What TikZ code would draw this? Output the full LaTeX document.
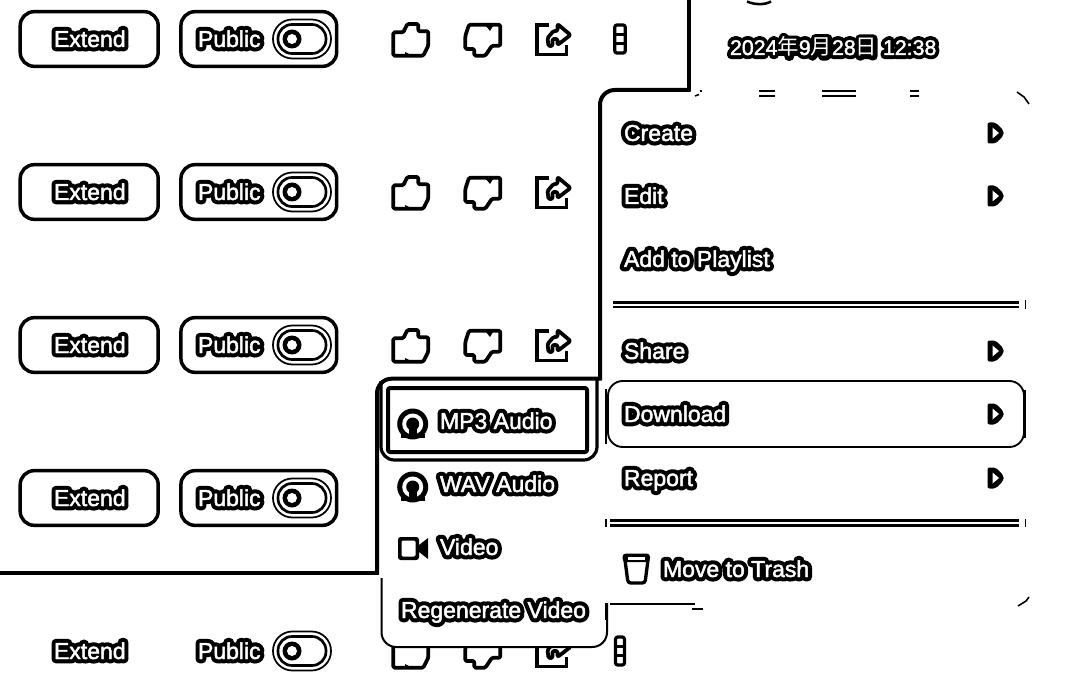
\documentclass[tikz,border=0pt]{standalone}
\usepackage{fontspec}
\setmainfont{Liberation Sans}
\newfontfamily\halofont[FakeBold=38]{Liberation Sans}
\newfontfamily\whitefont[FakeBold=2]{Liberation Sans}
\newfontfamily\cjkhalo[FakeBold=38]{Noto Sans CJK SC}
\newfontfamily\cjkwhite{Noto Sans CJK SC}
\newcommand{\halo}[1]{\rlap{\color{black}\halofont #1}{\color{white}\whitefont #1}}
\tikzset{
  x=0.75pt,y=-0.75pt,
  lab/.style={anchor=base west,inner sep=0pt,outer sep=0pt,font=\fontsize{17.25pt}{20pt}\selectfont},
  datelab/.style={anchor=base west,inner sep=0pt,outer sep=0pt,font=\fontsize{16pt}{20pt}\selectfont},
  btn/.style={draw=black,line width=2.6pt,rounded corners=10.5pt,minimum height=41pt,inner sep=0pt},
  heavy/.style={draw=black,line width=3pt},
  rule/.style={draw=black,line width=1.9pt},
  thinl/.style={draw=black,line width=1.2pt},
  ico/.style={draw=black,line width=2.8pt,line join=round,fill=white},
  pics/thumbup/.style={code={
    \draw[ico,rounded corners=1pt] (-17.7,15.7)--(-17.7,-7.7)--(-7.7,-7.7)--(-3.7,-16)--(7.3,-16)--(7.3,-8.7)--(17.3,-8.7)--(17.3,5.7)--(12.3,15.7)--cycle;
    \fill[black] (-6,12)--(-2,14)--(-6,15)--cycle;
  }},
  pics/thumbdown/.style={code={
    \draw[ico,rounded corners=1pt] (-14,-15.3)--(17.3,-15.3)--(17.3,5.7)--(9,5.7)--(2.3,15.7)--(-8.7,15.7)--(-8.7,9)--(-17.7,9)--(-17.7,-4)--cycle;
    \fill[black] (3,-14)--(10,-14)--(7,-9)--cycle;
  }},
  pics/shareicon/.style={code={
    \draw[draw=black,line width=2.8pt,line join=miter] (-5,-14.3)--(-16.5,-14.3)--(-16.5,15.5)--(13,15.5)--(13,6);
    \draw[ico,rounded corners=1pt] (-5,7)--(-6,-1)--(0,-8)--(4,-8)--(4,-15)--(17,-4)--(4,6)--(4,0)--(-1,0)--(-1,7)--cycle;
  }},
  pics/dots/.style={code={
    \draw[draw=black,line width=2.4pt,rounded corners=1.5pt] (-5.2,-14)rectangle(5.2,14);
    \draw[draw=black,line width=2.4pt] (-5.2,-4.7)--(5.2,-4.7) (-5.2,4.7)--(5.2,4.7);
  }},
  pics/toggle/.style={code={
    \draw[draw=black,line width=1.3pt,rounded corners=14.5pt] (-29,-19.5)rectangle(29,19.5);
    \draw[draw=black,line width=2pt,rounded corners=10.5pt] (-24,-14.5)rectangle(24,14.5);
    \fill[black] (-10,0) circle[radius=9.5];
    \fill[white] (-10,0) circle[radius=5];
  }},
  pics/chev/.style={code={
    \fill[black,rounded corners=1.5pt] (-8,-10.5)--(0,-10.5)--(8,-2.5)--(8,2.5)--(0,10.5)--(-8,10.5)--cycle;
    \fill[white] (-3,-5.5)--(3.5,0)--(-3,5.5)--cycle;
  }},
  pics/phones/.style={code={
    \fill[black] (0,0) circle[radius=15.5];
    \fill[white] (0,0) circle[radius=10.5];
    \fill[black] (-12,9.5) rectangle (12,14);
    \fill[black] (0,0) circle[radius=6.5];
    \fill[black] (-4,0) rectangle (4,12);
  }}
}
\begin{document}
\begin{tikzpicture}[line join=round]
\useasboundingbox (0,0) rectangle (1080,698);
\fill[white] (0,0) rectangle (1080,698);

% rows of buttons
\foreach \r/\y in {a/39,b/192,c/345,d/498}{
  \node[btn,minimum width=103.5pt] (ext\r) at (89.2,\y) {};
  \node[btn,minimum width=116.8pt] (pub\r) at (258.8,\y) {};
}
\foreach \r/\y in {a/39,b/192,c/345,d/498,e/651}{
  \pgfmathsetmacro{\b}{\y+8}
  \node[lab] (extt\r) at (54,\b) {\halo{Extend}};
  \node[lab] (pubt\r) at (198,\b) {\halo{Public}};
  \pic at (302,\y) {toggle};
}
\foreach \y in {39,192,345,651}{
  \pic at (411,\y+1) {thumbup};
  \pic at (483,\y+1) {thumbdown};
  \pic at (553.5,\y) {shareicon};
}
\pic at (620,39) {dots};
\pic[xscale=.85] at (620,651) {dots};

% frame of the dark panel
\draw[heavy] (688.7,-5)--(688.7,91.5);
\draw[heavy,rounded corners=11pt] (690.5,90)--(600,90)--(600,380);
\draw[heavy,rounded corners=11pt] (601.5,378.7)--(377,378.7)--(377,574);
\draw[heavy] (378.5,572.7)--(-5,572.7);

% date
\node[datelab] (date) at (730,55) {\rlap{\color{black}\halofont 2024\cjkhalo 年\halofont 9\cjkhalo 月\halofont 28\cjkhalo 日\halofont{} 12:38}{\color{white}\whitefont 2024\cjkwhite 年\whitefont 9\cjkwhite 月\whitefont 28\cjkwhite 日\whitefont{} 12:38}};

% scraps
\draw[rule] (747,1.5) .. controls (755,5) and (765,5) .. (771,1.5);
\draw[rule,line width=1.5pt] (759,91)--(775,91) (759,96.5)--(775,96.5) (822,91)--(856,91) (822,96.5)--(856,96.5) (910,91)--(919,91) (910,96.5)--(919,96.5);
\draw[thinl] (695,96)--(699,94.5);
\fill[black] (700,90.5) rectangle (702,92.5);
\draw[thinl] (1017,92)--(1024,97)--(1029,104);
\draw[thinl] (1018,606)--(1026,601)--(1029,597);

% submenu (lower part and selected outlines)
\fill[white,rounded corners=11pt] (381.5,590)--(381.5,647)--(607,647)--(607,590)--cycle;
\draw[line width=1.5pt,draw=black,rounded corners=11pt] (381.5,578)--(381.5,647)--(607,647)--(607,603);
\draw[draw=black,line width=2.4pt,rounded corners=10pt] (381,381)--(381,460)--(597,460)--(597,380);
\draw[draw=black,line width=3pt,rounded corners=1.5pt] (388,388) rectangle (587,452);

% main menu
\node[draw=black,line width=1.4pt,rounded corners=11pt,minimum width=312pt,minimum height=49.5pt,inner sep=0pt] (dl) at (816,414) {};
\draw[rule] (606,389)--(606,444) (1025,390)--(1025,438);
\foreach \n/\t/\y in {create/Create/133,edit/Edit/196,share/Share/351,download/Download/414,report/Report/478}{
  \pgfmathsetmacro{\b}{\y+8}
  \node[lab] (\n) at (624,\b) {\halo{\t}};
  \pic at (995.5,\y) {chev};
}
\node[lab] (playlist) at (624,267) {\halo{Add to Playlist}};
\draw[rule] (613,302.7)--(1019,302.7);
\draw[rule,line width=1.6pt] (613,307)--(1019,307);
\draw[thinl] (1025.5,300)--(1025.5,309);
\draw[rule] (610,520.5)--(1019,520.5);
\draw[rule] (610,525.5)--(1019,525.5);
\draw[thinl] (606,519)--(606,527) (1025.5,519)--(1025.5,527);
\node[lab] (trash) at (663,577) {\halo{Move to Trash}};
\fill[black,rounded corners=2.5pt] (622.5,553.5) rectangle (650,562);
\fill[white] (628,557) rectangle (645,560);
\draw[draw=black,line width=2.5pt,rounded corners=2pt] (625,560)--(628,583)--(645,583)--(648,560);
\draw[thinl] (606,603)--(606,620);
\draw[thinl] (610,604)--(695,604);
\fill[black] (692,608) rectangle (703,610);

% submenu items
\pic at (412.7,424) {phones};
\node[lab] (mp3) at (440,429) {\halo{MP3 Audio}};
\pic at (412.7,487) {phones};
\node[lab] (wav) at (440,492) {\halo{WAV Audio}};
\fill[black,rounded corners=2pt] (398,537) rectangle (419,560);
\fill[white,rounded corners=1pt] (401.5,540.5) rectangle (415.5,556.5);
\fill[black] (419,545)--(428,538)--(428,559)--(419,552)--cycle;
\node[lab] (video) at (440,555) {\halo{Video}};
\node[lab] (regen) at (401,618) {\halo{Regenerate Video}};
\end{tikzpicture}
\end{document}
